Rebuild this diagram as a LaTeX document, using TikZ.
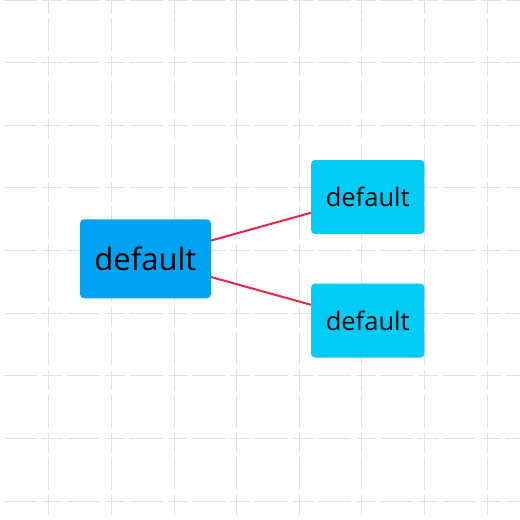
\documentclass[tikz,border=0pt]{standalone}
\usepackage{fontspec}
\setmainfont{Open Sans}
\definecolor{gridc}{HTML}{E2E2E2}
\definecolor{mainc}{HTML}{00A3F2}
\definecolor{subc}{HTML}{00CCF5}
\definecolor{edgec}{HTML}{E6264B}
\tikzset{
  gridline/.style={draw=gridc, line width=1pt, dash pattern=on 20pt off 4.7pt on 33pt off 5pt},
  rootbox/.style={fill=mainc, rounded corners=4pt, minimum width=130.7pt, minimum height=79pt, inner sep=0pt, font=\fontsize{31}{37}\selectfont, text=black},
  leafbox/.style={fill=subc, rounded corners=4pt, minimum width=113.3pt, minimum height=74pt, inner sep=0pt, font=\fontsize{25.5}{30}\selectfont, text=black},
  link/.style={draw=edgec, line width=2pt}
}
\begin{document}
\begin{tikzpicture}[x=1pt,y=-1pt]
\useasboundingbox (0,0) rectangle (520,520);
\fill[white] (0,0) rectangle (520,520);
\begin{scope}
\clip (0,0) rectangle (520,520);
\foreach \k in {-1,...,8} {
  \draw[gridline] (48.7+62.65*\k,-69.1) -- (48.7+62.65*\k,600);
}
\foreach \j in {0,...,8} {
  \draw[gridline] (-20.45,62.65*\j) -- (600,62.65*\j);
}
\end{scope}
\node[rootbox] (root) at (145.4,258.8) {default};
\node[leafbox] (top) at (367.7,197) {default};
\node[leafbox] (bot) at (367.7,320.5) {default};
\draw[link] (root) -- (top);
\draw[link] (root) -- (bot);
\end{tikzpicture}
\end{document}
